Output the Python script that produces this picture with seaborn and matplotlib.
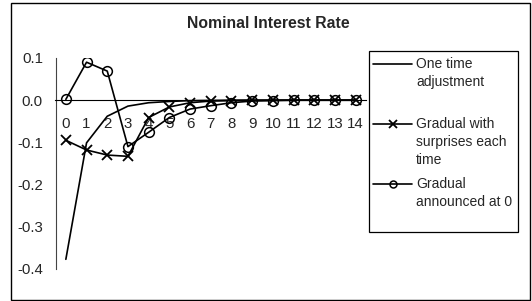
import numpy as np
import pandas as pd
import matplotlib
matplotlib.use("Agg")
import matplotlib.pyplot as plt
import seaborn as sns
from matplotlib.lines import Line2D
from matplotlib.patches import Rectangle
from matplotlib.ticker import FixedLocator

# data
periods = list(range(15))
one_time = [-0.377, -0.101, -0.038, -0.014, -0.006, -0.003, -0.001, -0.0005, 0, 0, 0, 0, 0, 0, 0]
surprises = [-0.095, -0.118, -0.130, -0.133, -0.041, -0.016, -0.006, -0.002, -0.001, 0, 0, 0, 0, 0, 0]
announced = [0.002, 0.090, 0.069, -0.110, -0.076, -0.041, -0.021, -0.013, -0.006, -0.002, -0.001, 0, 0, 0, 0]
labels = ["One time\nadjustment", "Gradual with\nsurprises each\ntime", "Gradual\nannounced at 0"]
y_ticks = [0.1, 0.0, -0.1, -0.2, -0.3, -0.4]

df = pd.DataFrame({"period": periods, "one": one_time, "sur": surprises, "ann": announced})

sns.set_style("white")
plt.rcParams["font.family"] = ["Liberation Sans", "DejaVu Sans"]
plt.rcParams["axes.unicode_minus"] = False

W, H = 532, 301
fig = plt.figure(figsize=(W / 100, H / 100), dpi=100)
fig.patches.append(Rectangle((11 / W, 1 - 300 / H), (530 - 11) / W, (300 - 3) / H,
                             transform=fig.transFigure, fill=False, edgecolor="black", linewidth=1))

ax = fig.add_axes([55.5 / W, 1 - 269 / H, (366 - 55.5) / W, (269 - 58) / H])
ax.patch.set_alpha(0)

lw = 1.2
sns.lineplot(data=df, x="period", y="one", ax=ax, color="black", linewidth=lw)
sns.lineplot(data=df, x="period", y="sur", ax=ax, color="black", linewidth=lw,
             marker="x", markersize=7, markeredgewidth=1.3, markeredgecolor="black")
sns.lineplot(data=df, x="period", y="ann", ax=ax, color="black", linewidth=lw,
             marker="o", markersize=7, markerfacecolor="none", markeredgecolor="black",
             markeredgewidth=1.1)

ax.set_xlim(-0.5, 14.5)
ax.set_ylim(-0.4, 0.1)
ax.set_xlabel("")
ax.set_ylabel("")

for s in ["top", "right"]:
    ax.spines[s].set_visible(False)
ax.spines["bottom"].set_position(("data", 0))
ax.spines["left"].set_color("#444444")
ax.spines["bottom"].set_color("black")
ax.spines["left"].set_linewidth(0.8)
ax.spines["bottom"].set_linewidth(0.8)

ax.set_xticks(periods)
ax.set_xticklabels([str(p) for p in periods])
ax.xaxis.set_minor_locator(FixedLocator(np.arange(-0.5, 15, 1)))
ax.tick_params(axis="x", which="major", length=0, pad=12, labelsize=10.8)
ax.tick_params(axis="x", which="minor", direction="in", length=4, width=0.8, color="black")

ax.set_yticks(y_ticks)
ax.set_yticklabels([f"{t:.1f}" for t in y_ticks])
ax.tick_params(axis="y", direction="out", length=4, width=0.8, pad=5, labelsize=10.8, color="#444444")

fig.text(268 / W, 1 - 23 / H, "Nominal Interest Rate", ha="center", va="center",
         fontsize=11.3, fontweight="bold")

# legend box, drawn by hand so each key sits on the first line of its label
fig.patches.append(Rectangle((369 / W, 1 - 232 / H), (518 - 369) / W, (232 - 51) / H,
                             transform=fig.transFigure, fill=True, facecolor="white",
                             edgecolor="black", linewidth=0.9, zorder=3))
handles = [
    dict(),
    dict(marker="x", markersize=6, markeredgewidth=1.3),
    dict(marker="o", markersize=5, markerfacecolor="none", markeredgewidth=1.1),
]
first_line_y = [64, 124, 184]
for lab, kw, yy in zip(labels, handles, first_line_y):
    yf = 1 - yy / H
    fig.add_artist(Line2D([373 / W, 412 / W], [yf, yf], transform=fig.transFigure,
                          color="black", linewidth=lw, zorder=4))
    if kw:
        fig.add_artist(Line2D([392.5 / W], [yf], transform=fig.transFigure, color="black",
                              linestyle="none", zorder=4, **kw))
    fig.text(416 / W, 1 - (yy - 7) / H, lab, ha="left", va="top", fontsize=10,
             linespacing=1.36, zorder=5)

fig.savefig("out.png", dpi=100)
